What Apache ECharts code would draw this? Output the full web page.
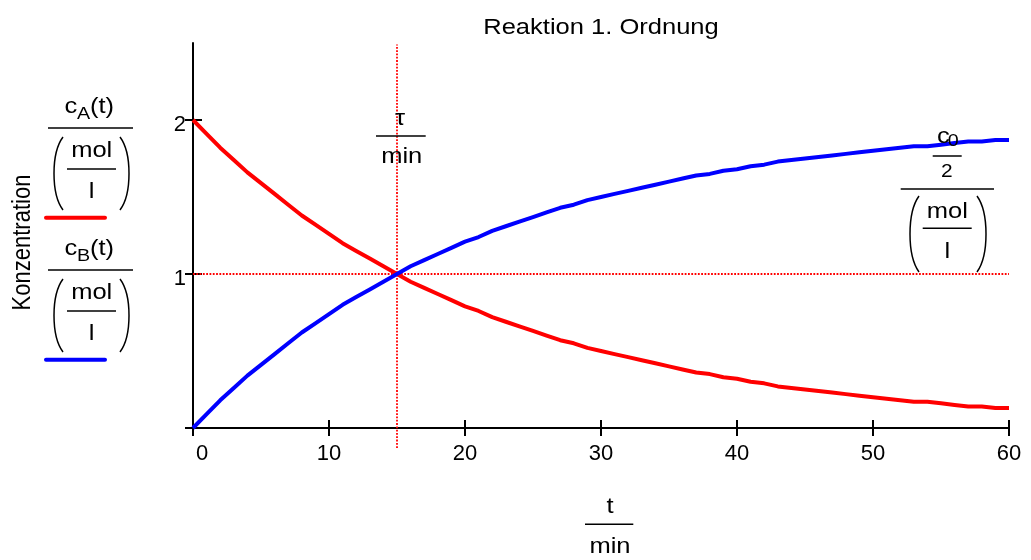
<!DOCTYPE html>
<html>
<head>
<meta charset="utf-8">
<script src="https://cdn.jsdelivr.net/npm/echarts@6/dist/echarts.min.js"></script>
<style>html,body{margin:0;padding:0;background:#fff}#c{width:1031px;height:560px}</style>
</head>
<body>
<div id="c"></div>
<script>
// ---- data ----
const tMin = [0,1,2,3,4,5,6,7,8,9,10,11,12,13,14,15,16,17,18,19,20,21,22,23,24,25,26,27,28,29,30,
  31,32,33,34,35,36,37,38,39,40,41,42,43,44,45,46,47,48,49,50,51,52,53,54,55,56,57,58,59,60];
const cA = [2.00,1.91,1.82,1.74,1.66,1.59,1.52,1.45,1.38,1.32,1.26,1.20,1.15,1.10,1.05,1.00,0.95,0.91,0.87,0.83,0.79,
  0.76,0.72,0.69,0.66,0.63,0.60,0.57,0.55,0.52,0.50,0.48,0.46,0.44,0.42,0.40,0.38,0.36,0.35,0.33,0.32,
  0.30,0.29,0.27,0.26,0.25,0.24,0.23,0.22,0.21,0.20,0.19,0.18,0.17,0.17,0.16,0.15,0.14,0.14,0.13,0.13];
const cB = [0.00,0.09,0.18,0.26,0.34,0.41,0.48,0.55,0.62,0.68,0.74,0.80,0.85,0.90,0.95,1.00,1.05,1.09,1.13,1.17,1.21,
  1.24,1.28,1.31,1.34,1.37,1.40,1.43,1.45,1.48,1.50,1.52,1.54,1.56,1.58,1.60,1.62,1.64,1.65,1.67,1.68,
  1.70,1.71,1.73,1.74,1.75,1.76,1.77,1.78,1.79,1.80,1.81,1.82,1.83,1.83,1.84,1.85,1.86,1.86,1.87,1.87];
const tau = 15;          // half-life marker (min)
const halfConc = 1;      // c0/2 marker (mol/l)
const xRange = [0, 60];
const xStep = 10;
const yRange = [0, 2.5];
const yTickValues = [0, 1, 2];
const yLabelValues = [1, 2];
const titleText = 'Reaktion 1. Ordnung';
const yAxisName = 'Konzentration';

// ---- styling ----
const FF = "'Liberation Sans', Arial, sans-serif";
const SX = 1.16;
const BLACK = '#000';

function txt(x, y, s, size) {
  return { type: 'text', x: x, y: y, scaleX: SX, silent: true, z: 10,
    style: { text: s, fontSize: size, fontFamily: FF, fill: BLACK, align: 'center', verticalAlign: 'middle' } };
}
function hline(x1, x2, y, w) {
  return { type: 'line', silent: true, z: 10, shape: { x1: x1, y1: y, x2: x2, y2: y },
    style: { stroke: BLACK, lineWidth: w || 1.5 } };
}
function paren(xTop, xMid, yTop, yBot) {
  const h = yBot - yTop;
  return { type: 'bezierCurve', silent: true, z: 10,
    shape: { x1: xTop, y1: yTop, x2: xTop, y2: yBot,
      cpx1: xMid, cpy1: yTop + h * 0.22, cpx2: xMid, cpy2: yBot - h * 0.22 },
    style: { stroke: BLACK, lineWidth: 1.5, fill: 'none' } };
}
function unitBlock(cx, barL, barR, barY, pL, pR, pTop, pBot, molY, innerL, innerR, innerY, lY) {
  return [
    hline(barL, barR, barY, 1.5),
    paren(pL + 9, pL - 3, pTop, pBot),
    paren(pR - 9, pR + 3, pTop, pBot),
    txt(cx, molY, 'mol', 22),
    hline(innerL, innerR, innerY, 1.5),
    txt(cx, lY, 'l', 22)
  ];
}

const graphics = [];
// title
graphics.push(txt(601, 28, titleText, 22));
// y axis name (rotated)
graphics.push({ type: 'text', x: 22.5, y: 242.5, rotation: Math.PI / 2, scaleY: SX, silent: true,
  style: { text: yAxisName, fontSize: 22, fontFamily: FF, fill: BLACK, align: 'center', verticalAlign: 'middle' } });

// legend blocks
function legendBlock(dy, color) {
  const sub = color === 'red' ? 'A' : 'B';
  const out = [
    txt(71, 107.4 + dy, 'c', 22),
    txt(83.7, 114.8 + dy, sub, 17),
    txt(102, 107.4 + dy, '(t)', 22)
  ].concat(unitBlock(91.7, 48, 133, 128 + dy, 54, 129, 137 + dy, 210 + dy,
    150.7 + dy, 67, 116, 169 + dy, 192.4 + dy));
  out.push({ type: 'line', silent: true, z: 10, shape: { x1: 46, y1: 217.7 + dy, x2: 105, y2: 217.7 + dy },
    style: { stroke: color === 'red' ? '#ff0000' : '#0000ff', lineWidth: 4, lineCap: 'round' } });
  return out;
}
legendBlock(0, 'red').forEach(g => graphics.push(g));
legendBlock(142, 'blue').forEach(g => graphics.push(g));

// right marker label c0/2 over (mol/l)
graphics.push(txt(943.3, 137.4, 'c', 22));
graphics.push(txt(953.3, 141.4, '0', 17));
graphics.push(hline(932.7, 961.7, 156, 1.5));
graphics.push(txt(946.7, 172, '2', 18));
unitBlock(947.3, 900.7, 994, 189, 910, 986, 196, 272, 212.4, 922.7, 971.7, 228.3, 251.7)
  .forEach(g => graphics.push(g));

// tau label
graphics.push(txt(400, 119, 'τ', 22));
graphics.push(hline(376, 425.7, 136, 1.5));
graphics.push(txt(401.7, 157.4, 'min', 22));

// x axis name
graphics.push(txt(610, 507.4, 't', 22));
graphics.push(hline(585, 633.3, 524.3, 1.5));
graphics.push(txt(610, 547.4, 'min', 22));

const axisLineStyle = { color: BLACK, width: 2 };
const tickLineStyle = { color: BLACK, width: 2 };
const dotStyle = { color: '#ff0000', width: 1.8, type: [1.8, 1.5] };

const option = {
  animation: false,
  backgroundColor: '#fff',
  grid: { left: 193, right: 22, top: 43, bottom: 132, containLabel: false },
  xAxis: [
    { type: 'value', min: xRange[0], max: xRange[1], interval: xStep, position: 'bottom',
      axisLine: { show: true, onZero: false, lineStyle: axisLineStyle },
      axisTick: { show: true, inside: false, length: 8, lineStyle: tickLineStyle },
      axisLabel: { show: true, margin: 15, color: BLACK, fontSize: 22, fontFamily: FF,
        formatter: v => v === 0 ? '{z|0}' : String(v),
        rich: { z: { fontSize: 22, fontFamily: FF, color: BLACK, padding: [0, 0, 0, 18] } } },
      splitLine: { show: false } },
    { type: 'value', min: xRange[0], max: xRange[1], interval: xStep, position: 'bottom',
      axisLine: { show: false, onZero: false },
      axisTick: { show: true, inside: true, length: 8, lineStyle: tickLineStyle },
      axisLabel: { show: false }, splitLine: { show: false } }
  ],
  yAxis: [
    { type: 'value', min: yRange[0], max: yRange[1], interval: 1, position: 'left',
      axisLine: { show: true, onZero: false, lineStyle: axisLineStyle },
      axisTick: { show: true, inside: false, length: 8, lineStyle: tickLineStyle, customValues: yTickValues },
      axisLabel: { show: true, margin: 7, color: BLACK, fontSize: 22, fontFamily: FF, customValues: yLabelValues,
        formatter: v => '{d|' + v + '}',
        rich: { d: { fontSize: 22, fontFamily: FF, color: BLACK, padding: [10, 0, 0, 0] } } },
      splitLine: { show: false } },
    { type: 'value', min: yRange[0], max: yRange[1], interval: 1, position: 'left',
      axisLine: { show: false, onZero: false },
      axisTick: { show: true, inside: true, length: 9, lineStyle: tickLineStyle, customValues: yTickValues },
      axisLabel: { show: false }, splitLine: { show: false } }
  ],
  series: [
    { type: 'line', name: 'c0/2', data: [[xRange[0], halfConc], [xRange[1], halfConc]],
      symbol: 'none', silent: true, clip: false, z: 2, lineStyle: dotStyle },
    { type: 'line', name: 'tau', data: [[tau, -0.13], [tau, 2.49]],
      symbol: 'none', silent: true, clip: false, z: 2, lineStyle: dotStyle },
    { type: 'line', name: 'cA', data: tMin.map((t, i) => [t, cA[i]]),
      symbol: 'none', silent: true, clip: false, z: 3,
      lineStyle: { color: '#ff0000', width: 4 } },
    { type: 'line', name: 'cB', data: tMin.map((t, i) => [t, cB[i]]),
      symbol: 'none', silent: true, clip: false, z: 4,
      lineStyle: { color: '#0000ff', width: 4 } }
  ],
  graphic: graphics
};

const chart = echarts.init(document.getElementById('c'), null, { renderer: 'canvas' });
chart.setOption(option);
</script>
</body>
</html>
